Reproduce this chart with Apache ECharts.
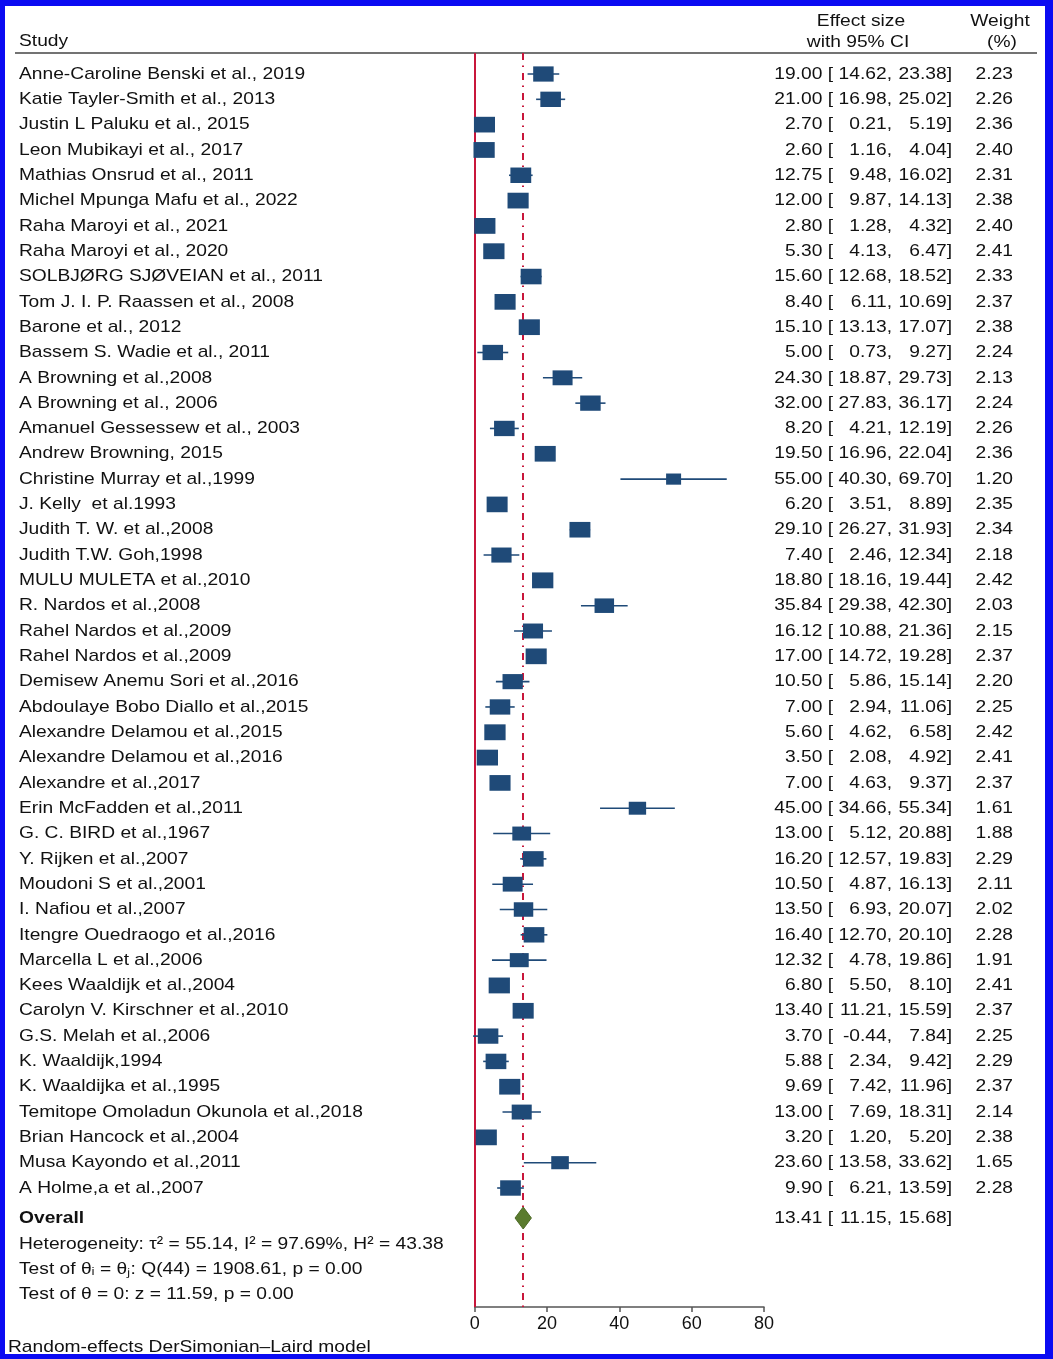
<!DOCTYPE html>
<html lang="en">
<head>
<meta charset="UTF-8">
<title>Forest plot</title>
<style>
  html, body { margin: 0; padding: 0; background: #fff; }
</style>
</head>
<body>
<div id="main" style="width: 1053px;height:1359px;"></div>
<script src="https://cdn.jsdelivr.net/npm/echarts@6/dist/echarts.min.js"></script>
<script>
var studies = [
    'Anne-Caroline Benski et al., 2019', 'Katie Tayler-Smith et al., 2013', 'Justin L Paluku et al., 2015',
    'Leon Mubikayi et al., 2017', 'Mathias Onsrud et al., 2011', 'Michel Mpunga Mafu et al., 2022',
    'Raha Maroyi et al., 2021', 'Raha Maroyi et al., 2020', 'SOLBJØRG SJØVEIAN et al., 2011',
    'Tom J. I. P. Raassen et al., 2008', 'Barone et al., 2012', 'Bassem S. Wadie et al., 2011',
    'A Browning et al.,2008', 'A Browning et al., 2006', 'Amanuel Gessessew et al., 2003',
    'Andrew Browning, 2015', 'Christine Murray et al.,1999', 'J. Kelly  et al.1993',
    'Judith T. W. et al.,2008', 'Judith T.W. Goh,1998', 'MULU MULETA et al.,2010',
    'R. Nardos et al.,2008', 'Rahel Nardos et al.,2009', 'Rahel Nardos et al.,2009',
    'Demisew Anemu Sori et al.,2016', 'Abdoulaye Bobo Diallo et al.,2015', 'Alexandre Delamou et al.,2015',
    'Alexandre Delamou et al.,2016', 'Alexandre et al.,2017', 'Erin McFadden et al.,2011',
    'G. C. BIRD et al.,1967', 'Y. Rijken et al.,2007', 'Moudoni S et al.,2001',
    'I. Nafiou et al.,2007', 'Itengre Ouedraogo et al.,2016', 'Marcella L et al.,2006',
    'Kees Waaldijk et al.,2004', 'Carolyn V. Kirschner et al.,2010', 'G.S. Melah et al.,2006',
    'K. Waaldijk,1994', 'K. Waaldijka et al.,1995', 'Temitope Omoladun Okunola et al.,2018',
    'Brian Hancock et al.,2004', 'Musa Kayondo et al.,2011', 'A Holme,a et al.,2007'
];
var es = [19.00, 21.00, 2.70, 2.60, 12.75, 12.00, 2.80, 5.30, 15.60, 8.40, 15.10, 5.00, 24.30, 32.00, 8.20,
          19.50, 55.00, 6.20, 29.10, 7.40, 18.80, 35.84, 16.12, 17.00, 10.50, 7.00, 5.60, 3.50, 7.00, 45.00,
          13.00, 16.20, 10.50, 13.50, 16.40, 12.32, 6.80, 13.40, 3.70, 5.88, 9.69, 13.00, 3.20, 23.60, 9.90];
var lo = [14.62, 16.98, 0.21, 1.16, 9.48, 9.87, 1.28, 4.13, 12.68, 6.11, 13.13, 0.73, 18.87, 27.83, 4.21,
          16.96, 40.30, 3.51, 26.27, 2.46, 18.16, 29.38, 10.88, 14.72, 5.86, 2.94, 4.62, 2.08, 4.63, 34.66,
          5.12, 12.57, 4.87, 6.93, 12.70, 4.78, 5.50, 11.21, -0.44, 2.34, 7.42, 7.69, 1.20, 13.58, 6.21];
var hi = [23.38, 25.02, 5.19, 4.04, 16.02, 14.13, 4.32, 6.47, 18.52, 10.69, 17.07, 9.27, 29.73, 36.17, 12.19,
          22.04, 69.70, 8.89, 31.93, 12.34, 19.44, 42.30, 21.36, 19.28, 15.14, 11.06, 6.58, 4.92, 9.37, 55.34,
          20.88, 19.83, 16.13, 20.07, 20.10, 19.86, 8.10, 15.59, 7.84, 9.42, 11.96, 18.31, 5.20, 33.62, 13.59];
var wt = [2.23, 2.26, 2.36, 2.40, 2.31, 2.38, 2.40, 2.41, 2.33, 2.37, 2.38, 2.24, 2.13, 2.24, 2.26,
          2.36, 1.20, 2.35, 2.34, 2.18, 2.42, 2.03, 2.15, 2.37, 2.20, 2.25, 2.42, 2.41, 2.37, 1.61,
          1.88, 2.29, 2.11, 2.02, 2.28, 1.91, 2.41, 2.37, 2.25, 2.29, 2.37, 2.14, 2.38, 1.65, 2.28];
var overall = [13.41, 11.15, 15.68];
var statLines = [
    'Heterogeneity: τ² = 55.14, I² = 97.69%, H² = 43.38',
    'Test of θᵢ = θⱼ: Q(44) = 1908.61, p = 0.00',
    'Test of θ = 0: z = 11.59, p = 0.00'
];
var xTicks = [0, 80, 20];   // min, max, interval

// layout
var FONT = '"Liberation Sans", Arial, Helvetica, sans-serif';
var FS = 17, SX = 1.13;
var BLUE = '#1f4a78', RED = '#c8163b', GREEN = '#5a7b2e';
var ROW_OVERALL = 45.185;
var ROW_STATS = [46.21, 47.2, 48.19];
var COL_NAME = 19, COL_ES = 833, COL_LO = 892, COL_HI = 952, COL_W = 1013;

function txt(x, y, text, align, bold) {
    return {
        type: 'text', x: x, y: y, scaleX: SX,
        style: {
            text: text, fontSize: FS, fontFamily: FONT, fontWeight: bold ? 'bold' : 'normal',
            fill: '#111', align: align, verticalAlign: 'middle'
        }
    };
}

var myChart = echarts.init(document.getElementById('main'));

var option = {
    animation: false,
    backgroundColor: '#fff',
    grid: { left: 474.7, right: 289, top: 53, bottom: 52 },
    xAxis: {
        type: 'value', position: 'bottom', min: xTicks[0], max: xTicks[1], interval: xTicks[2],
        splitLine: { show: false },
        axisLine: { show: true, onZero: false, lineStyle: { color: '#555', width: 1.5 } },
        axisTick: { show: true, length: 5, lineStyle: { color: '#555', width: 1.5 } },
        axisLabel: { fontSize: 18, fontFamily: FONT, color: '#111', margin: 8 }
    },
    yAxis: {
        type: 'value', inverse: true, min: -0.8295, max: 48.7, show: false
    },
    graphic: [
        // frame
        { type: 'rect', shape: { x: 0, y: 0, width: 5, height: 1359 }, style: { fill: '#0b0bf2' } },
        { type: 'rect', shape: { x: 0, y: 0, width: 1053, height: 6 }, style: { fill: '#0b0bf2' } },
        { type: 'rect', shape: { x: 1045, y: 0, width: 8, height: 1359 }, style: { fill: '#0b0bf2' } },
        { type: 'rect', shape: { x: 0, y: 1354, width: 1053, height: 5 }, style: { fill: '#0b0bf2' } },
        // header
        { type: 'line', shape: { x1: 15, y1: 53, x2: 1037, y2: 53 }, style: { stroke: '#444', lineWidth: 1.6 } },
        txt(COL_NAME, 41, 'Study', 'left'),
        txt(861, 21, 'Effect size', 'center'),
        txt(858, 42, 'with 95% CI', 'center'),
        txt(1000, 21, 'Weight', 'center'),
        txt(1002, 42, '(%)', 'center'),
        txt(8, 1347, 'Random-effects DerSimonian–Laird model', 'left')
    ],
    series: [
        {
            name: 'ci',
            type: 'custom',
            z: 2,
            silent: true,
            data: es.map(function (v, i) { return [lo[i], hi[i], i]; }),
            encode: { x: [0, 1], y: 2 },
            renderItem: function (params, api) {
                var p1 = api.coord([api.value(0), api.value(2)]);
                var p2 = api.coord([api.value(1), api.value(2)]);
                return {
                    type: 'line',
                    shape: { x1: p1[0], y1: p1[1], x2: p2[0], y2: p2[1] },
                    style: { stroke: BLUE, lineWidth: 1.6 }
                };
            },
            markLine: {
                z: 1,
                silent: true,
                symbol: ['none', 'none'],
                label: { show: false },
                data: [
                    { xAxis: 0, lineStyle: { color: RED, width: 2, type: 'solid' } },
                    { xAxis: overall[0], lineStyle: { color: RED, width: 2, type: [7, 5.5, 1.5, 6] } }
                ]
            }
        },
        {
            name: 'effect',
            type: 'scatter',
            z: 3,
            silent: true,
            symbol: 'rect',
            data: es.map(function (v, i) { return [v, i, wt[i]]; }),
            symbolSize: function (val) {
                return [13.7 * Math.sqrt(val[2]), 10.2 * Math.sqrt(val[2])];
            },
            itemStyle: { color: BLUE, opacity: 1 }
        },
        {
            name: 'overall',
            type: 'custom',
            z: 4,
            silent: true,
            data: [[overall[0], overall[1], overall[2], ROW_OVERALL]],
            renderItem: function (params, api) {
                var c = api.coord([api.value(0), api.value(3)]);
                var l = api.coord([api.value(1), api.value(3)]);
                var r = api.coord([api.value(2), api.value(3)]);
                var h = 11;
                return {
                    type: 'group',
                    children: [
                        {
                            type: 'polygon',
                            shape: { points: [[l[0], c[1]], [c[0], c[1] - h], [r[0], c[1]], [c[0], c[1] + h]] },
                            style: { fill: GREEN, stroke: '#4d6a26', lineWidth: 1 }
                        },
                        txt(COL_NAME, c[1], 'Overall', 'left', true),
                        txt(COL_ES, c[1], overall[0].toFixed(2) + ' [', 'right'),
                        txt(COL_LO, c[1], overall[1].toFixed(2) + ',', 'right'),
                        txt(COL_HI, c[1], overall[2].toFixed(2) + ']', 'right')
                    ]
                };
            }
        },
        {
            name: 'rows',
            type: 'custom',
            z: 5,
            silent: true,
            data: studies.map(function (s, i) { return [0, i]; }),
            encode: { x: 0, y: 1 },
            renderItem: function (params, api) {
                var i = params.dataIndex;
                var y = api.coord([0, api.value(1)])[1];
                return {
                    type: 'group',
                    children: [
                        txt(COL_NAME, y, studies[i], 'left'),
                        txt(COL_ES, y, es[i].toFixed(2) + ' [', 'right'),
                        txt(COL_LO, y, lo[i].toFixed(2) + ',', 'right'),
                        txt(COL_HI, y, hi[i].toFixed(2) + ']', 'right'),
                        txt(COL_W, y, wt[i].toFixed(2), 'right')
                    ]
                };
            }
        },
        {
            name: 'stats',
            type: 'custom',
            z: 5,
            silent: true,
            data: statLines.map(function (s, i) { return [0, ROW_STATS[i]]; }),
            encode: { x: 0, y: 1 },
            renderItem: function (params, api) {
                var y = api.coord([0, api.value(1)])[1];
                return txt(COL_NAME, y, statLines[params.dataIndex], 'left');
            }
        }
    ]
};

myChart.setOption(option);
</script>
</body>
</html>
